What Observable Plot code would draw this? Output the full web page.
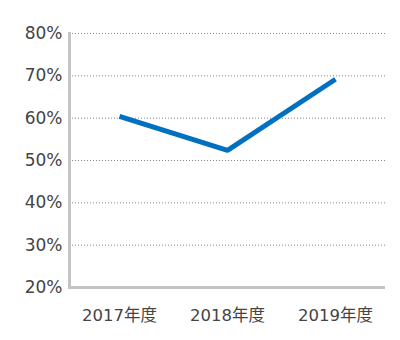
<!DOCTYPE html>
<html><head><meta charset="utf-8">
<script src="https://cdn.jsdelivr.net/npm/d3@7"></script>
<script src="https://cdn.jsdelivr.net/npm/@observablehq/plot@0.6"></script>
<style>body{margin:0;background:#fff}</style>
</head><body><div id="chart"></div>
<script>
const years = ["2017年度", "2018年度", "2019年度"];
const rates = [0.604, 0.524, 0.692];
const yTicks = [0.2, 0.3, 0.4, 0.5, 0.6, 0.7, 0.8];
const data = years.map((y, i) => ({year: y, rate: rates[i]}));
const font = "'DejaVu Sans', 'Noto Sans CJK JP', sans-serif";
const chart = Plot.plot({
  width: 400, height: 340,
  marginLeft: 69, marginRight: 15, marginTop: 33, marginBottom: 53,
  style: {fontFamily: font, fontSize: "16px", color: "#333", background: "#fff"},
  x: {type: "point", domain: years, padding: 0.46, label: null},
  y: {domain: [0.2, 0.8], ticks: yTicks, tickFormat: d => Math.round(d * 100) + "%", label: null},
  marks: [
    Plot.gridY(yTicks.slice(1), {stroke: "#888", strokeOpacity: 1, strokeDasharray: "1,2", strokeWidth: 1}),
    Plot.axisY({ticks: yTicks, tickSize: 0, tickPadding: 7, tickFormat: d => Math.round(d * 100) + "%", fontSize: 17, fill: "#444", label: null}),
    Plot.axisX({tickSize: 0, tickPadding: 22, fontSize: 16.5, fill: "#444", label: null}),
    Plot.ruleY([0.2], {stroke: "#c4c4c4", strokeWidth: 3}),
    Plot.frame({anchor: "left", stroke: "#c4c4c4", strokeWidth: 3}),
    Plot.line(data, {x: "year", y: "rate", stroke: "#0070c0", strokeWidth: 5, strokeLinejoin: "miter", strokeLinecap: "butt"})
  ]
});
document.getElementById("chart").append(chart);
</script></body></html>
